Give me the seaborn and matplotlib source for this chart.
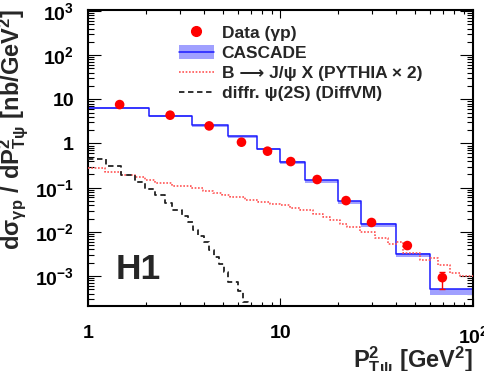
import numpy as np
import matplotlib
matplotlib.use("Agg")
import matplotlib.pyplot as plt
import seaborn as sns
from matplotlib.patches import Patch
from matplotlib.lines import Line2D
from matplotlib.ticker import FixedLocator, LogLocator, NullFormatter

# ---------------- data ----------------
data_x = [1.46, 2.67, 4.26, 6.27, 8.56, 11.3, 15.5, 21.9, 29.7, 45.6, 69.3]
data_y = [7.6, 4.37, 2.5, 1.07, 0.67, 0.39, 0.153, 0.051, 0.0163, 0.0049, 0.00092]
data_err_lo = [0.5, 0.3, 0.15, 0.08, 0.05, 0.03, 0.012, 0.004, 0.0015, 0.0006, 0.00042]
data_err_hi = [0.5, 0.3, 0.15, 0.08, 0.05, 0.03, 0.012, 0.004, 0.0015, 0.0006, 0.00032]

cascade_edges = [1.0, 2.08, 3.48, 5.35, 7.56, 10.0, 13.4, 19.9, 26.3, 39.7, 59.5, 100.0]
cascade_y = [6.42, 4.3, 2.6, 1.46, 0.77, 0.39, 0.146, 0.0495, 0.0152, 0.0032, 0.0005]
cascade_lo = [6.0, 4.0, 2.42, 1.35, 0.70, 0.35, 0.127, 0.042, 0.0129, 0.0027, 0.00037]
cascade_hi = [6.6, 4.4, 2.65, 1.49, 0.79, 0.40, 0.149, 0.0505, 0.0155, 0.0033, 0.00051]

pythia_edges = [1.0, 1.225, 1.48, 1.75, 1.98, 2.23, 2.73, 3.42, 3.95, 4.45, 4.96,
                5.46, 6.53, 7.62, 8.80, 9.92, 11.2, 12.6, 14.7, 16.6, 18.0, 20.3,
                22.1, 25.8, 31.0, 36.0, 40.1, 43.1, 52.8, 59.5, 65.5, 75.6, 85.2, 100.0]
pythia_y = [0.276, 0.224, 0.192, 0.173, 0.146, 0.128, 0.110, 0.0975, 0.0833, 0.0751,
            0.069, 0.0616, 0.0532, 0.047, 0.0432, 0.0396, 0.0344, 0.0305, 0.0254, 0.0215,
            0.0188, 0.0147, 0.0126, 0.0097, 0.0071, 0.0052, 0.0058, 0.0034, 0.00225,
            0.00257, 0.00174, 0.00115, 0.00098]

diffr_edges = [1.0, 1.24, 1.48, 1.75, 1.98, 2.23, 2.51, 2.74, 3.06, 3.32, 3.52, 3.74,
               4.01, 4.25, 4.52, 4.78, 5.10, 5.35, 5.98, 6.40, 6.80, 7.2]
diffr_y = [0.435, 0.302, 0.196, 0.133, 0.091, 0.0666, 0.0455, 0.0316, 0.0226, 0.0166,
           0.0112, 0.0079, 0.00585, 0.00394, 0.00268, 0.0019, 0.00122, 7.5e-4, 4.7e-4,
           2.6e-4, 1.2e-4]

x_ticks = [1, 10, 100]
x_ticklabels = ["1", "10", r"$10^{2}$"]
y_ticks = [1e-3, 1e-2, 1e-1, 1, 10, 1e2, 1e3]
y_ticklabels = [r"$10^{-3}$", r"$10^{-2}$", r"$10^{-1}$", "1", "10", r"$10^{2}$", r"$10^{3}$"]

legend_labels = ["Data (γp)", "CASCADE", "B ⟶ J/ψ X (PYTHIA × 2)", "diffr. ψ(2S) (DiffVM)"]

# ---------------- style ----------------
sns.set_style("ticks")
plt.rcParams["font.family"] = ["Liberation Sans", "DejaVu Sans"]
plt.rcParams["font.weight"] = "bold"
plt.rcParams["mathtext.fontset"] = "custom"
plt.rcParams["mathtext.rm"] = "Liberation Sans:bold"
plt.rcParams["mathtext.it"] = "Liberation Sans:bold"
plt.rcParams["mathtext.bf"] = "Liberation Sans:bold"
plt.rcParams["mathtext.sf"] = "Liberation Sans:bold"
plt.rcParams["mathtext.default"] = "rm"

W, H = 485, 371
fig = plt.figure(figsize=(W / 100, H / 100), dpi=100)
ax = fig.add_axes([88 / W, 1 - 306 / H, 385 / W, 296 / H])
ax.set_xscale("log")
ax.set_yscale("log")

def ext(v):
    return list(v) + [v[-1]]

# CASCADE band + line
ax.fill_between(cascade_edges, ext(cascade_lo), ext(cascade_hi), step="post",
                color="#a0a0ff", lw=0, zorder=1)
sns.lineplot(x=cascade_edges, y=ext(cascade_y), drawstyle="steps-post", estimator=None,
             sort=False, color="#1a1aff", lw=1.1, ax=ax, legend=False, zorder=2)

# PYTHIA
sns.lineplot(x=pythia_edges, y=ext(pythia_y), drawstyle="steps-post", estimator=None,
             sort=False, color="#ff5555", lw=1.2, linestyle=(0, (1, 1)), ax=ax,
             legend=False, zorder=3)

# diffractive
sns.lineplot(x=diffr_edges, y=ext(diffr_y), drawstyle="steps-post", estimator=None,
             sort=False, color="#222222", lw=1.3, linestyle=(0, (3, 2)), ax=ax,
             legend=False, zorder=3)

# data
ax.errorbar(data_x, data_y, yerr=[data_err_lo, data_err_hi], fmt="none", ecolor="red",
            elinewidth=1.0, capsize=2.5, capthick=1.0, zorder=4)
sns.scatterplot(x=data_x, y=data_y, s=48, color="red", edgecolor="none", ax=ax,
                legend=False, zorder=5)

ax.set_xlim(1, 100)
ax.set_ylim(2.1e-4, 1.05e3)

ax.xaxis.set_major_locator(FixedLocator(x_ticks))
ax.set_xticklabels(x_ticklabels)
ax.yaxis.set_major_locator(FixedLocator(y_ticks))
ax.set_yticklabels(y_ticklabels)
ax.xaxis.set_minor_locator(LogLocator(base=10, subs=np.arange(2, 10), numticks=20))
ax.yaxis.set_minor_locator(LogLocator(base=10, subs=np.arange(2, 10), numticks=20))
ax.xaxis.set_minor_formatter(NullFormatter())
ax.yaxis.set_minor_formatter(NullFormatter())

ax.tick_params(which="both", direction="in", top=True, right=True, width=0.8,
               labelsize=14, colors="black")
ax.tick_params(axis="x", which="major", length=5.8, pad=14)
ax.tick_params(axis="x", which="minor", length=2.9)
ax.tick_params(axis="y", which="major", length=9.4, pad=10)
ax.tick_params(axis="y", which="minor", length=4.3)
for sp in ax.spines.values():
    sp.set_linewidth(1.5)
    sp.set_color("black")

ax.set_xlabel("")
ax.set_ylabel("")

# axis titles
fig.text(14 / W, 1 - 129 / H,
         r"$d\sigma_{\gamma p}\ /\ dP^{2}_{T\psi}\ [nb/GeV^{2}]$",
         rotation=90, ha="center", va="center", fontsize=17)
fig.text(473 / W, 1 - 367 / H, r"$P^{2}_{T\psi}\ [GeV^{2}]$",
         ha="right", va="baseline", fontsize=17)

# H1 label
fig.text(116 / W, 1 - 279 / H, "H1", fontsize=25.5, fontweight="bold", ha="left",
         va="baseline")

# legend
handles = [
    Line2D([], [], marker="o", color="red", ls="none", markersize=7),
    (Patch(facecolor="#a0a0ff", edgecolor="none"), Line2D([], [], color="#1a1aff", lw=1.1)),
    Line2D([], [], color="#ff5555", lw=1.2, ls=(0, (1, 1))),
    Line2D([], [], color="#222222", lw=1.3, ls=(0, (3, 2))),
]
leg = ax.legend(handles, legend_labels, loc="upper left",
                bbox_to_anchor=(179 / W, 1 - 25 / H), bbox_transform=fig.transFigure,
                frameon=False, fontsize=12.5, handlelength=2.0, handleheight=0.85,
                handletextpad=0.45, labelspacing=0.24, borderpad=0, borderaxespad=0)

fig.savefig("out.png", dpi=100)
